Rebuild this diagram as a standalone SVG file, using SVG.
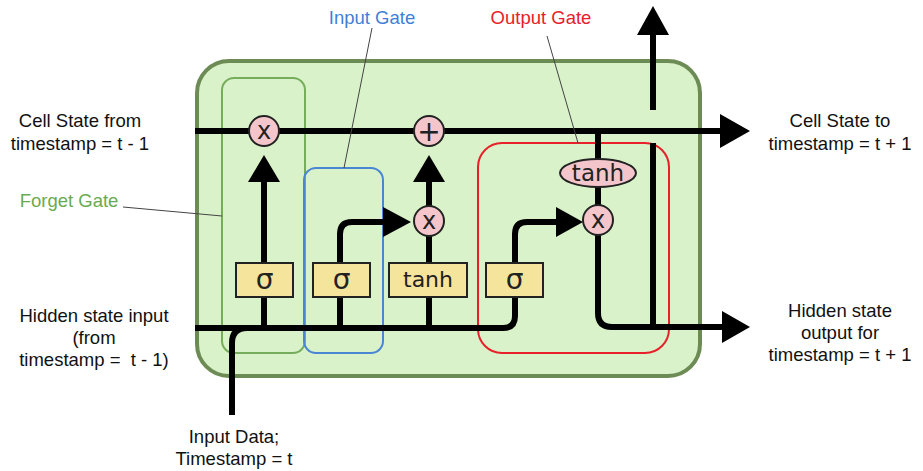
<svg xmlns="http://www.w3.org/2000/svg" width="923" height="471" viewBox="0 0 923 471">
<defs>
<style>
.ln{fill:none;stroke:#000;stroke-width:6;stroke-linecap:butt}
.ah{fill:#000}
.op{fill:#f4c6cc;stroke:#222;stroke-width:2}
.bx{fill:#f4e49c;stroke:#222;stroke-width:2}
.sym{font-family:"DejaVu Sans",sans-serif;text-anchor:middle;fill:#222}
.lbl{font-family:"Liberation Sans",Arial,sans-serif;font-size:18.5px;text-anchor:middle;fill:#111}
.lead{stroke:#444;stroke-width:1;fill:none}
</style>
</defs>
<rect width="923" height="471" fill="#fff"/>
<g id="cell">
<rect x="197" y="61" width="503" height="315" rx="32" fill="#d9f2c9" stroke="#6d8c55" stroke-width="4"/>
</g>
<g id="forget-gate">
<rect x="222" y="78" width="83" height="275" rx="12" fill="none" stroke="#76ad5c" stroke-width="2"/>
</g>
<g id="input-gate">
<rect x="304" y="168" width="79" height="185" rx="12" fill="none" stroke="#4a86d4" stroke-width="2"/>
</g>
<g id="output-gate">
<rect x="478" y="143" width="191" height="210" rx="24" fill="none" stroke="#e8202a" stroke-width="2"/>
</g>
<g id="connectors">
<path class="ln" d="M195 131 H722"/>
<polygon class="ah" points="720,114 750,131 720,148"/>
<path class="ln" d="M195 328 H503 Q515 328 515 316 V297"/>
<path class="ln" d="M232 415 V343 Q232 328 247 328"/>
<path class="ln" d="M264 328 V297"/>
<path class="ln" d="M264 263 V180"/>
<polygon class="ah" points="248,182 264,155 280,182"/>
<path class="ln" d="M340 328 V297"/>
<path class="ln" d="M340 263 V234 Q340 222 352 222 H385"/>
<polygon class="ah" points="383,207 411,222 383,237"/>
<path class="ln" d="M429 328 V297"/>
<path class="ln" d="M429 263 V236"/>
<path class="ln" d="M429 206 V180"/>
<polygon class="ah" points="413,182 429,155 445,182"/>
<path class="ln" d="M515 263 V234 Q515 222 527 222 H558"/>
<polygon class="ah" points="556,207 583,222 556,237"/>
<path class="ln" d="M598 131 V159"/>
<path class="ln" d="M598 187 V205"/>
<path class="ln" d="M598 235 V313 Q598 327 612 327 H724"/>
<polygon class="ah" points="722,311 750,327 722,343"/>
<path class="ln" d="M653 143 V327"/>
<path class="ln" d="M653 110 V33"/>
<polygon class="ah" points="637,35 653,6 669,35"/>
<path class="lead" d="M123 207 L222 216"/>
<path class="lead" d="M372 28 L344 168"/>
<path class="lead" d="M547 36 L578 143"/>
</g>
<g id="forget-mult">
<circle class="op" cx="264" cy="131" r="15"/>
<text class="sym" x="264" y="139" font-size="24">x</text>
</g>
<g id="cell-add">
<circle class="op" cx="429" cy="131" r="15"/>
<text class="sym" x="429" y="141" font-size="28">+</text>
</g>
<g id="input-mult">
<circle class="op" cx="429" cy="221" r="15"/>
<text class="sym" x="429" y="229" font-size="24">x</text>
</g>
<g id="output-mult">
<circle class="op" cx="598" cy="220" r="15"/>
<text class="sym" x="598" y="228" font-size="24">x</text>
</g>
<g id="output-tanh">
<ellipse class="op" cx="598" cy="173" rx="38" ry="14"/>
<text class="sym" x="598" y="181" font-size="23">tanh</text>
</g>
<g id="sigma-forget">
<rect class="bx" x="236" y="263" width="57" height="34"/>
<text class="sym" x="264.5" y="289" font-size="28">σ</text>
</g>
<g id="sigma-input">
<rect class="bx" x="313" y="263" width="57" height="34"/>
<text class="sym" x="341.5" y="289" font-size="28">σ</text>
</g>
<g id="tanh-input">
<rect class="bx" x="389" y="263" width="78" height="34"/>
<text class="sym" x="428" y="287" font-size="22">tanh</text>
</g>
<g id="sigma-output">
<rect class="bx" x="486" y="263" width="57" height="34"/>
<text class="sym" x="514.5" y="289" font-size="28">σ</text>
</g>
<g id="labels">
<text class="lbl" x="80" y="127">Cell State from</text>
<text class="lbl" x="80" y="150">timestamp = t - 1</text>
<text class="lbl" x="69" y="207" fill="#6aaa50" style="fill:#6aaa50">Forget Gate</text>
<text class="lbl" x="372" y="24" style="fill:#3f7fd8">Input Gate</text>
<text class="lbl" x="541" y="24" style="fill:#e8202a">Output Gate</text>
<text class="lbl" x="94" y="322">Hidden state input</text>
<text class="lbl" x="94" y="344">(from</text>
<text class="lbl" x="94" y="366" xml:space="preserve">timestamp =  t - 1)</text>
<text class="lbl" x="234" y="443">Input Data;</text>
<text class="lbl" x="234" y="465">Timestamp = t</text>
<text class="lbl" x="840" y="127">Cell State to</text>
<text class="lbl" x="840" y="150">timestamp = t + 1</text>
<text class="lbl" x="840" y="317">Hidden state</text>
<text class="lbl" x="840" y="339">output for</text>
<text class="lbl" x="840" y="361">timestamp = t + 1</text>
</g>
</svg>
